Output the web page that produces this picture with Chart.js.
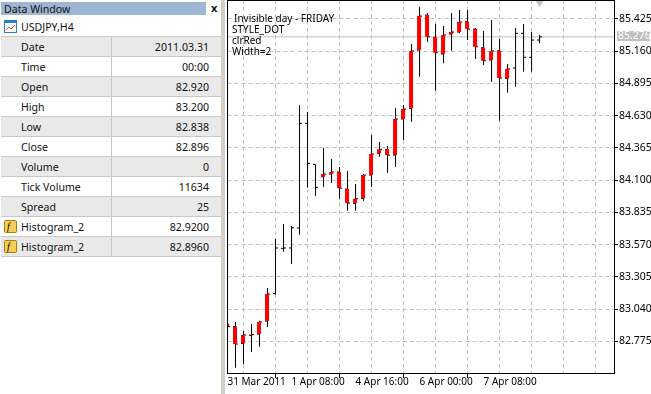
<!DOCTYPE html>
<html>
<head>
<meta charset="utf-8">
<script src="https://cdn.jsdelivr.net/npm/chart.js@4"></script>
<style>
    html, body { margin: 0; padding: 0; background: #fff; overflow: hidden; }
    body { width: 651px; height: 394px; position: relative; font: 10.6px "Noto Sans", sans-serif; color: #111; }
    #panel { position: absolute; left: 0; top: 0; width: 221px; height: 394px; }
    #title { position: absolute; left: 1px; top: 2px; width: 205px; height: 13px; line-height: 14px; background: #9db6d3; padding-left: 3px; box-sizing: border-box; }
    #close { position: absolute; left: 211px; top: 1px; font-weight: bold; font-size: 11px; line-height: 14px; }
    #rows { position: absolute; left: 1px; top: 17px; width: 220px; border-collapse: collapse; table-layout: fixed; }
    #rows td { height: 19px; padding: 0; border-bottom: 1px solid #c8c8c8; white-space: nowrap; }
    #rows tr:nth-child(even) td { background: #e9e9e9; }
    #rows td.n { padding-left: 20px; width: 111px; border-right: 1px solid #c8c8c8; }
    #rows td.v { text-align: right; padding-right: 12px; }
    #rows td.head { padding-left: 20px; border-right: 0; }
    .ico { position: absolute; left: 4px; width: 12px; height: 12px; box-sizing: border-box; }
    #gutter { position: absolute; left: 221px; top: 0; width: 4px; height: 394px; background: #d4d0c8; }
    #c { position: absolute; left: 224px; top: 0; width: 427px; height: 394px; }
    #note { position: absolute; left: 232px; top: 13px; line-height: 11px; font-size: 10px; color: #000; white-space: pre; }
    #note span { padding-left: 2px; }
</style>
</head>
<body>
<div id="panel">
    <div id="title">Data Window</div>
    <div id="close">x</div>
    <table id="rows"></table>
    <svg class="ico" style="top:20px;width:13px;height:13px" viewBox="0 0 13 13"><rect x=".5" y=".5" width="12" height="12" fill="#fff" stroke="#2a7fd0"/><rect x="1" y="1" width="11" height="2" fill="#2a7fd0"/><path d="M2 10l3-3 2 2 4-4" fill="none" stroke="#e04040"/></svg>
    <svg class="ico" style="top:220px;width:13px;height:13px" viewBox="0 0 13 13"><rect x=".5" y=".5" width="12" height="12" rx="1" fill="#f5cf55" stroke="#a08010"/><text x="3" y="10" font-size="10" font-style="italic" font-family="Liberation Serif">f</text></svg>
    <svg class="ico" style="top:240px;width:13px;height:13px" viewBox="0 0 13 13"><rect x=".5" y=".5" width="12" height="12" rx="1" fill="#f5cf55" stroke="#a08010"/><text x="3" y="10" font-size="10" font-style="italic" font-family="Liberation Serif">f</text></svg>
</div>
<div id="gutter"></div>
<canvas id="c" width="427" height="394"></canvas>
<div id="note"><span>Invisible day - FRIDAY</span>
STYLE_DOT
clrRed
Width=2</div>
<script>
const rowLabels = ['Date', 'Time', 'Open', 'High', 'Low', 'Close', 'Volume', 'Tick Volume', 'Spread', 'Histogram_2', 'Histogram_2'];
const rowValues = ['2011.03.31', '00:00', '82.920', '83.200', '82.838', '82.896', '0', '11634', '25', '82.9200', '82.8960'];

const opens  = [82.920, 82.897, 82.757, 82.823, 82.835, 82.942, 83.168, 83.539, 83.542, 83.706, 84.566, 84.229, 84.127, 84.149, 84.166, 84.026, 83.909, 83.950, 84.141, 84.319, 84.352, 84.305, 84.601, 84.689, 85.168, 85.455, 85.272, 85.135, 85.299, 85.316, 85.400, 85.340, 85.187, 85.086, 85.162, 84.935, 85.020, 85.305, 85.108, 85.250];
const highs  = [83.200, 82.934, 82.860, 82.917, 82.944, 83.213, 83.615, 83.739, 83.722, 84.716, 84.659, 84.229, 84.365, 84.273, 84.207, 84.174, 84.067, 84.149, 84.470, 84.412, 84.379, 84.691, 84.716, 85.217, 85.524, 85.472, 85.381, 85.365, 85.472, 85.496, 85.496, 85.349, 85.324, 85.414, 85.258, 85.053, 85.349, 85.381, 85.316, 85.291];
const lows   = [82.838, 82.558, 82.589, 82.687, 82.731, 82.895, 83.158, 83.511, 83.410, 83.651, 84.037, 83.971, 84.043, 84.075, 83.946, 83.848, 83.848, 83.928, 84.043, 84.291, 84.158, 84.207, 84.429, 84.579, 84.949, 85.236, 84.834, 85.059, 85.162, 85.305, 85.250, 85.094, 85.045, 84.908, 84.587, 84.817, 84.866, 84.990, 84.990, 85.223];
const closes = [82.896, 82.753, 82.827, 82.831, 82.934, 83.164, 83.542, 83.542, 83.708, 84.566, 84.237, 84.040, 84.149, 84.166, 84.034, 83.911, 83.946, 84.141, 84.314, 84.352, 84.305, 84.601, 84.683, 85.160, 85.447, 85.277, 85.146, 85.291, 85.316, 85.398, 85.340, 85.195, 85.080, 85.160, 84.938, 85.012, 85.305, 85.108, 85.250, 85.276];
// fridays get no red histogram, that is the point of the indicator
const fridayBars = [6, 7, 8, 9, 10, 11, 36, 37, 38, 39];

const priceTicks = [85.425, 85.160, 84.895, 84.630, 84.365, 84.100, 83.835, 83.570, 83.305, 83.040, 82.775];
const timeTicks = { 0: '31 Mar 2011', 8: '1 Apr 08:00', 16: '4 Apr 16:00', 24: '6 Apr 00:00', 32: '7 Apr 08:00' };
const gridBars = [0, 4, 8, 12, 16, 20, 24, 28, 32, 36, 40, 44, 48];
const lastPrice = 85.276;
const priceMin = 82.515, priceMax = 85.579;
const barMax = 48.3;
const markerBar = 39, markerPrice = 85.561;

let rowsHtml = '<tr><td class="head" colspan="2">USDJPY,H4</td></tr>';
rowLabels.forEach(function (label, i) {
    rowsHtml += '<tr><td class="n">' + label + '</td><td class="v">' + rowValues[i] + '</td></tr>';
});
document.getElementById('rows').innerHTML = rowsHtml;

const bars = opens.map((o, i) => i);
const isBody = (i) => !fridayBars.includes(i);

// frame round the plot and the grey tag with the last price
const framePlugin = {
    id: 'frame',
    afterDraw(chart) {
        const { ctx, chartArea: a, scales } = chart;
        ctx.save();
        ctx.strokeStyle = '#000';
        ctx.lineWidth = 1;
        ctx.strokeRect(Math.floor(a.left) + 0.5, Math.floor(a.top) + 0.5, Math.round(a.right - a.left), Math.round(a.bottom - a.top));
        const y = Math.round(scales.y.getPixelForValue(lastPrice)) - 1;
        ctx.fillStyle = '#c0c0c0';
        ctx.fillRect(a.right + 3, y - 5, 33, 10);
        ctx.fillStyle = '#fff';
        ctx.font = '10.5px "Noto Sans"';
        ctx.textBaseline = 'middle';
        ctx.fillText(lastPrice.toFixed(3), a.right + 4, y);
        ctx.restore();
    }
};

new Chart(document.getElementById('c'), {
    data: {
        datasets: [
            {
                type: 'line',
                data: [{ x: 0, y: lastPrice }, { x: barMax, y: lastPrice }],
                borderColor: '#c0c0c0', borderWidth: 1, pointRadius: 0, order: 5
            },
            {
                type: 'bar',
                data: bars.map((i) => ({ x: i, y: [lows[i], highs[i]] })),
                backgroundColor: '#000', barThickness: 1, inflateAmount: 0, grouped: false, order: 4
            },
            {
                type: 'scatter',
                data: bars.map((i) => ({ x: i - 0.1875, y: opens[i] })),
                pointStyle: 'line', pointRadius: 1, borderColor: '#000', borderWidth: 1, order: 3
            },
            {
                type: 'scatter',
                data: bars.map((i) => ({ x: i + 0.1875, y: closes[i] })),
                pointStyle: 'line', pointRadius: 1, borderColor: '#000', borderWidth: 1, order: 3
            },
            {
                type: 'bar',
                data: bars.filter(isBody).map((i) => ({ x: i - 0.0625, y: [opens[i], closes[i]] })),
                backgroundColor: '#ff0000', barThickness: 4, inflateAmount: 0, grouped: false, order: 2
            },
            {
                type: 'scatter',
                data: [{ x: markerBar, y: markerPrice }],
                pointStyle: 'triangle', rotation: 180, pointRadius: 5, backgroundColor: '#c0c0c0', borderWidth: 0, clip: false, order: 1
            }
        ]
    },
    options: {
        responsive: false,
        animation: false,
        layout: { autoPadding: false, padding: { left: 3.5, top: 0, right: 0, bottom: 0 } },
        plugins: { legend: { display: false }, tooltip: { enabled: false } },
        scales: {
            x: {
                type: 'linear',
                min: 0,
                max: barMax,
                offset: false,
                afterBuildTicks(scale) { scale.ticks = gridBars.map((v) => ({ value: v })); },
                afterFit(scale) { scale.height = 21; scale.paddingLeft = 0; scale.paddingRight = 0; },
                grid: {
                    color: '#c0c0c0', tickColor: (c) => (timeTicks[c.tick && c.tick.value] ? '#000' : 'transparent'),
                    tickLength: 5, lineWidth: 1, z: -1
                },
                border: { color: '#000', dash: [4, 3] },
                ticks: {
                    font: { family: 'Noto Sans', size: 10 }, color: '#000', align: 'start', maxRotation: 0, autoSkip: false, padding: -2,
                    callback: (v) => timeTicks[v] || ''
                }
            },
            y: {
                position: 'right',
                min: priceMin,
                max: priceMax,
                afterBuildTicks(scale) { scale.ticks = priceTicks.map((v) => ({ value: v })); },
                afterFit(scale) { scale.width = 37; scale.paddingTop = 0; scale.paddingBottom = 0; },
                grid: { color: '#c0c0c0', tickColor: '#000', tickLength: 4, lineWidth: 1, z: -1 },
                border: { color: '#000', dash: [4, 3] },
                ticks: { font: { family: 'Noto Sans', size: 10.5 }, color: '#000', padding: 1, callback: (v) => v.toFixed(3) }
            }
        }
    },
    plugins: [framePlugin]
});
</script>
</body>
</html>
